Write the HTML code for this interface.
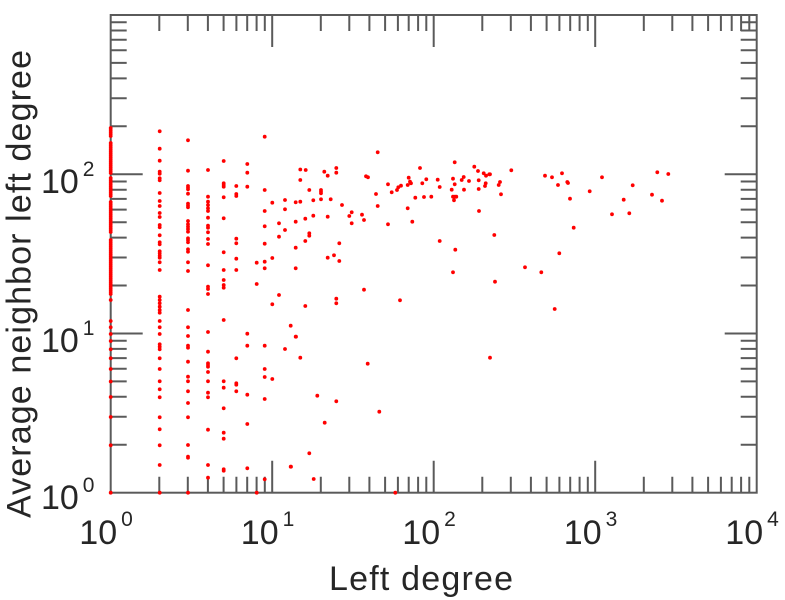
<!DOCTYPE html>
<html>
<head>
<meta charset="utf-8">
<style>
  html,body{margin:0;padding:0;background:#fff;}
  svg{display:block;}
  text{font-family:"Liberation Sans",Arial,sans-serif;fill:#262626;}
</style>
</head>
<body>
<svg width="785" height="600" viewBox="0 0 785 600" xmlns="http://www.w3.org/2000/svg">
<rect x="0" y="0" width="785" height="600" fill="#fff"/>

<!-- frame -->
<rect x="110.7" y="15" width="646" height="477.7" fill="none" stroke="#5a5a5a" stroke-width="2"/>

<!-- minor ticks -->
<path fill="none" stroke="#5a5a5a" stroke-width="2" d="
M159.3 492.7v-16M159.3 15v16M187.8 492.7v-16M187.8 15v16M207.9 492.7v-16M207.9 15v16M223.6 492.7v-16M223.6 15v16
M236.4 492.7v-16M236.4 15v16M247.2 492.7v-16M247.2 15v16M256.6 492.7v-16M256.6 15v16M264.8 492.7v-16M264.8 15v16
M320.8 492.7v-16M320.8 15v16M349.3 492.7v-16M349.3 15v16M369.4 492.7v-16M369.4 15v16M385.1 492.7v-16M385.1 15v16
M397.9 492.7v-16M397.9 15v16M408.7 492.7v-16M408.7 15v16M418.1 492.7v-16M418.1 15v16M426.3 492.7v-16M426.3 15v16
M482.3 492.7v-16M482.3 15v16M510.8 492.7v-16M510.8 15v16M530.9 492.7v-16M530.9 15v16M546.6 492.7v-16M546.6 15v16
M559.4 492.7v-16M559.4 15v16M570.2 492.7v-16M570.2 15v16M579.6 492.7v-16M579.6 15v16M587.8 492.7v-16M587.8 15v16
M643.8 492.7v-16M643.8 15v16M672.3 492.7v-16M672.3 15v16M692.4 492.7v-16M692.4 15v16M708.1 492.7v-16M708.1 15v16
M720.9 492.7v-16M720.9 15v16M731.7 492.7v-16M731.7 15v16M741.1 492.7v-16M741.1 15v16M749.3 492.7v-16M749.3 15v16
M110.7 444.8h16M756.7 444.8h-16M110.7 416.7h16M756.7 416.7h-16M110.7 396.8h16M756.7 396.8h-16M110.7 381.4h16M756.7 381.4h-16
M110.7 368.8h16M756.7 368.8h-16M110.7 358.1h16M756.7 358.1h-16M110.7 348.9h16M756.7 348.9h-16M110.7 340.8h16M756.7 340.8h-16
M110.7 285.5h16M756.7 285.5h-16M110.7 257.5h16M756.7 257.5h-16M110.7 237.6h16M756.7 237.6h-16M110.7 222.2h16M756.7 222.2h-16
M110.7 209.6h16M756.7 209.6h-16M110.7 198.9h16M756.7 198.9h-16M110.7 189.7h16M756.7 189.7h-16M110.7 181.5h16M756.7 181.5h-16
M110.7 126.3h16M756.7 126.3h-16M110.7 98.3h16M756.7 98.3h-16M110.7 78.4h16M756.7 78.4h-16M110.7 62.9h16M756.7 62.9h-16
M110.7 50.3h16M756.7 50.3h-16M110.7 39.7h16M756.7 39.7h-16M110.7 30.5h16M756.7 30.5h-16M110.7 22.3h16M756.7 22.3h-16
"/>
<!-- major ticks -->
<path fill="none" stroke="#5a5a5a" stroke-width="2" d="
M272.2 492.7v-32M272.2 15v32M433.7 492.7v-32M433.7 15v32M595.2 492.7v-32M595.2 15v32
M110.7 333.5h32M756.7 333.5h-32M110.7 174.2h32M756.7 174.2h-32
"/>

<!-- data points -->
<path fill="none" stroke="#ff0000" stroke-width="3.8" stroke-linecap="round" d="
M110.7 128h0M110.7 130h0M110.7 132h0M110.7 134h0M110.7 136h0
M110.7 143h0M110.7 145h0M110.7 147h0M110.7 149h0M110.7 151h0M110.7 153h0M110.7 155h0M110.7 157h0M110.7 159h0M110.7 161h0M110.7 163h0M110.7 165h0M110.7 167h0M110.7 169h0M110.7 171h0M110.7 173h0
M110.7 178h0M110.7 180h0M110.7 182h0M110.7 184h0M110.7 186h0M110.7 188h0M110.7 190h0M110.7 192h0M110.7 194h0M110.7 196h0
M110.7 202h0M110.7 204h0M110.7 206h0M110.7 208h0M110.7 210h0M110.7 212h0M110.7 214h0M110.7 216h0M110.7 218h0M110.7 220h0M110.7 222h0M110.7 224h0M110.7 226h0M110.7 228h0M110.7 230h0M110.7 232h0
M110.7 240h0M110.7 242h0M110.7 244h0M110.7 246h0M110.7 248h0M110.7 250h0M110.7 252h0M110.7 254h0M110.7 256h0M110.7 258h0M110.7 260h0M110.7 262h0M110.7 264h0M110.7 266h0M110.7 268h0M110.7 270h0M110.7 272h0M110.7 274h0M110.7 276h0M110.7 278h0M110.7 280h0M110.7 282h0M110.7 284h0M110.7 286h0M110.7 288h0M110.7 290h0M110.7 292h0M110.7 294h0
M110.7 300h0M110.7 321h0M110.7 327.3h0M110.7 334h0M110.7 341h0M110.7 349.3h0M110.7 358.3h0M110.7 369h0M110.7 381.5h0M110.7 397h0M110.7 417h0M110.7 445.3h0M110.7 492.7h0

M159.7 131.3h0M159.7 148.7h0M159.7 160.7h0M159.7 171.7h0M159.7 173.7h0M159.7 178.3h0M159.7 180.3h0M159.7 193h0M159.7 201h0M159.7 206h0M159.7 213h0M159.7 217h0M159.7 225h0M159.7 227.3h0M159.7 235.3h0M159.7 242.3h0M159.7 244.3h0M159.7 251.3h0M159.7 253.3h0M159.7 255.7h0M159.7 257.7h0M159.7 262.3h0M159.7 270h0M159.7 296.7h0M159.7 300h0M159.7 303.3h0M159.7 306.7h0M159.7 310h0M159.7 312.7h0M159.7 321h0M159.7 327.3h0M159.7 334h0M159.7 344.3h0M159.7 346.7h0M159.7 349.3h0M159.7 358.3h0M159.7 369h0M159.7 381.3h0M159.7 389.3h0M159.7 397.3h0M159.7 417.3h0M159.7 429.3h0M159.7 445.3h0M159.7 465h0M159.7 492.7h0

M188 140.3h0M188 170.7h0M188 186h0M188 187.7h0M188 189.3h0M188 193.7h0M188 203.7h0M188 205.7h0M188 207.3h0M188 221h0M188 224.3h0M188 226.7h0M188 229h0M188 231.7h0M188 238.3h0M188 240h0M188 242.3h0M188 249.3h0M188 251.7h0M188 262.3h0M188 271h0M188 310h0M188 327.3h0M188 336h0M188 345.7h0M188 347.7h0M188 361.7h0M188 376.7h0M188 381.3h0M188 391.3h0M188 403h0M188 417.3h0M188 445h0M188 456.7h0M188 457.7h0M188 492.7h0

M208 170h0M208 196.7h0M208 201.7h0M208 205h0M208 208.3h0M208 211h0M208 217.7h0M208 225.7h0M208 227.7h0M208 232.3h0M208 239h0M208 244h0M208 265.3h0M208 286.7h0M208 289h0M208 294h0M208 332h0M208 351.7h0M208 363.3h0M208 365h0M208 366.7h0M208 372h0M208 381.3h0M208 392.7h0M208 397.3h0M208 429.7h0M208 465h0M208 477.7h0

M223.7 161h0M223.7 183.3h0M223.7 185h0M223.7 186.7h0M223.7 197.3h0M223.7 218.3h0M223.7 252.3h0M223.7 270h0M223.7 280h0M223.7 285h0M223.7 287.7h0M223.7 320h0M223.7 381.3h0M223.7 387.7h0M223.7 408.3h0M223.7 432.7h0M223.7 438.7h0M223.7 469.3h0M223.7 470.7h0

M236.3 186h0M236.3 194h0M236.3 196h0M236.3 238.7h0M236.3 243.3h0M236.3 258.7h0M236.3 270h0M236.3 358.3h0M236.3 383.3h0M236.3 384.7h0M236.3 391.3h0

M247.3 164h0M247.3 172.7h0M247.3 186.7h0M247.3 333.7h0M247.3 345.7h0M247.3 394.7h0M247.3 424h0M247.3 468.3h0
M256.7 262.7h0M256.7 284h0M256.7 492.7h0
M264.7 136.7h0M264.7 190h0M264.7 211h0M264.7 226.3h0M264.7 243.7h0M264.7 261.7h0M264.7 268.3h0M264.7 345.7h0M264.7 369h0M264.7 377h0M264.7 399h0M264.7 479.3h0
M272.3 202.7h0M272.3 258h0M272.3 304.3h0M272.3 379h0
M279 223.3h0M279 236.7h0M279 295h0
M285 200h0M285 209.3h0M285 230h0M285 349h0
M290.7 325.7h0M290.7 466.7h0M291 466.7h0
M295.7 202.3h0M295.7 221.7h0M295.7 247.7h0M295.7 268.3h0M295.7 336.7h0
M300.3 169.5h0M300.3 180h0M300.3 201.7h0M300.3 357.7h0

M305.7 170h0M309.3 190h0M313.3 200.3h0M321 190h0M321 191.7h0M321 193.3h0M321 199.3h0M324.3 171.7h0M327.7 175.7h0M330.7 199.3h0M336.3 168h0M336.3 172.7h0M342 205h0
M305.3 218.7h0M313.3 215.7h0M327.7 216.7h0M309.3 233.3h0M309.3 235.7h0M305.3 241h0M339.3 243.3h0M334 255.3h0M327.7 257.7h0M339.3 261h0
M305.3 306h0M336.3 298.7h0M336.3 303.3h0M364 289.7h0M400 300.3h0
M377.7 152.3h0M366 176.3h0M368 177.3h0M376 194h0M377.7 206h0M351.7 212.3h0M349.3 216h0M351.7 223.3h0M362 214.7h0M364 220h0
M388 184.3h0M391.7 192.3h0M388 224.3h0M397 190h0M398.3 187.3h0M401 185.7h0M407.7 208.3h0M408.7 177.7h0M410 181.7h0M411 183.3h0M407.7 185h0M412.3 221.7h0M415.3 197.7h0
M420 168h0M422.3 183.3h0M424 197h0M426.3 179.3h0M431.3 196.7h0M437.7 179.7h0M439.7 187h0M439.7 241h0
M454.7 162.3h0M453 178.7h0M454.7 184.3h0M451.7 189.7h0M453 196.7h0M455 196.7h0M456.3 196.7h0M454 200.3h0M455.3 249.7h0M453 272.3h0
M461.7 180h0M463.7 177h0M464 189.7h0M469 181h0M474.3 166.7h0M478 171h0M478.7 180.3h0M478.7 189h0M479 211h0
M483.7 173.3h0M486 175.7h0M489.3 174.3h0M485.7 183.3h0M485 186h0M494.3 235h0M495 281.7h0M490 174.3h0
M317.3 395.7h0M336.3 401.3h0M324.7 422.7h0M309.3 453.3h0M313.7 479h0M367.7 363.7h0M490 357.7h0M379.3 411.7h0M395.3 492.7h0M296 336.7h0
M511.3 170.3h0M500 182h0M498.7 185h0M501 194.3h0M545 175.7h0M552 177.3h0M562 173.3h0M558 185h0M567.3 182h0M568 183h0M570 198.7h0M589.7 191.3h0M602 177.3h0
M573.7 227.7h0M559.3 253.3h0M525 267.3h0M541.3 272.3h0M554.7 309h0
M612 214.3h0M623.7 199.7h0M629.3 213.3h0M632.7 185.3h0M652 194.7h0M657.3 172.3h0M668.3 174h0M662 200.7h0
"/>

<!-- y tick labels -->
<text x="41" y="509" font-size="34">10</text><text x="82.8" y="492" font-size="21">0</text>
<text x="41" y="352" font-size="34">10</text><text x="82.8" y="335" font-size="21">1</text>
<text x="41" y="193" font-size="34">10</text><text x="82.8" y="176" font-size="21">2</text>

<!-- x tick labels -->
<text x="79.3" y="544" font-size="34">10</text><text x="121.1" y="526" font-size="21">0</text>
<text x="240.8" y="544" font-size="34">10</text><text x="282.6" y="526" font-size="21">1</text>
<text x="402.3" y="544" font-size="34">10</text><text x="444.1" y="526" font-size="21">2</text>
<text x="563.8" y="544" font-size="34">10</text><text x="605.6" y="526" font-size="21">3</text>
<text x="725.3" y="544" font-size="34">10</text><text x="767.1" y="526" font-size="21">4</text>

<!-- axis titles -->
<text x="329" y="590" font-size="34" textLength="184" lengthAdjust="spacing">Left degree</text>
<text transform="translate(30.7,518) rotate(-90)" x="0" y="0" font-size="34" textLength="468" lengthAdjust="spacing">Average neighbor left degree</text>
</svg>
</body>
</html>
